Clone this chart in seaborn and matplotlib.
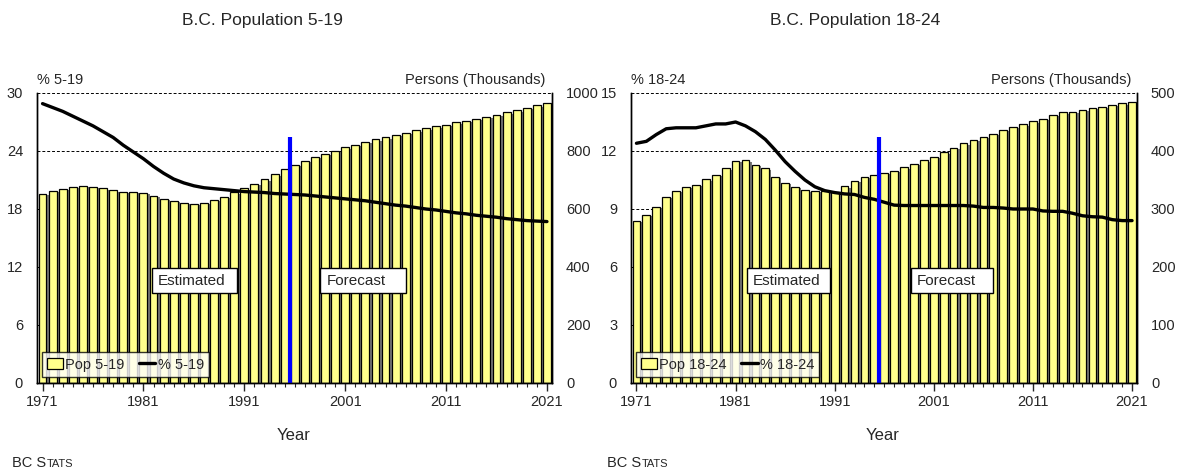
import matplotlib
matplotlib.use("Agg")
import matplotlib.pyplot as plt
import matplotlib.patheffects as pe
from matplotlib.ticker import FixedLocator, MultipleLocator
from matplotlib.patches import Rectangle, Patch
from matplotlib.lines import Line2D
import seaborn as sns

years = list(range(1971, 2022))

# Population 5-19 (thousands)
pop_5_19 = [652, 662, 669, 676, 679, 676, 671, 664, 659, 659,
            655, 646, 636, 628, 621, 618, 621, 631, 643, 657,
            671, 686, 702, 720, 738, 753, 766, 779, 790, 801,
            813, 821, 832, 840, 847, 855, 863, 871, 878, 885,
            891, 899, 905, 911, 917, 924, 934, 940, 948, 957,
            967]
# share of population aged 5-19 (%)
pct_5_19 = [28.9, 28.5, 28.1, 27.6, 27.1, 26.6, 26.0, 25.4, 24.6, 23.9,
            23.2, 22.4, 21.7, 21.1, 20.7, 20.4, 20.2, 20.1, 20.0, 19.9,
            19.8, 19.75, 19.7, 19.6, 19.55, 19.5, 19.45, 19.35, 19.25, 19.15,
            19.05, 18.95, 18.85, 18.7, 18.55, 18.4, 18.3, 18.15, 18.0, 17.9,
            17.75, 17.6, 17.5, 17.35, 17.25, 17.15, 17.0, 16.9, 16.8, 16.75,
            16.7]

# Population 18-24 (thousands)
pop_18_24 = [280, 290, 304, 321, 331, 338, 342, 351, 359, 370,
             383, 384, 376, 370, 356, 345, 338, 332, 331, 331,
             329, 339, 349, 355, 359, 362, 366, 372, 378, 384,
             390, 398, 406, 413, 419, 425, 430, 437, 442, 446,
             451, 456, 462, 467, 468, 471, 474, 476, 480, 482,
             485]
pct_18_24 = [12.4, 12.5, 12.85, 13.15, 13.2, 13.2, 13.2, 13.3, 13.4, 13.4,
             13.5, 13.3, 13.0, 12.6, 12.05, 11.45, 10.95, 10.5, 10.15, 9.95,
             9.85, 9.78, 9.75, 9.6, 9.5, 9.35, 9.2, 9.18, 9.18, 9.18,
             9.18, 9.18, 9.18, 9.18, 9.15, 9.08, 9.08, 9.05, 9.0, 9.0,
             9.0, 8.9, 8.88, 8.88, 8.78, 8.65, 8.6, 8.58, 8.45, 8.4,
             8.4]

forecast_start = 1995.5
major_years = [1971, 1981, 1991, 2001, 2011, 2021]

BAR = "#FFFF8C"
FS = 10.5

sns.set_style("white")
plt.rcParams["font.family"] = ["Liberation Sans", "DejaVu Sans"]

W, H = 1179, 472
fig = plt.figure(figsize=(W / 100, H / 100), dpi=100)


def panel(rect, pop, pct, pct_max, pop_max, step_pct, step_pop, age, title,
          title_x, est_x, fc_x, blue_top, stats_x):
    ax = fig.add_axes(rect)
    axb = ax.twinx()
    ax.set_zorder(axb.get_zorder() + 1)
    ax.patch.set_visible(False)

    sns.barplot(x=years, y=pop, ax=axb, native_scale=True, color=BAR,
                saturation=1, edgecolor="black", linewidth=0.9, width=0.78)
    for p in axb.patches:
        p.set_path_effects([pe.SimplePatchShadow(offset=(1.6, -1.0),
                                                 shadow_rgbFace="#7a7a7a", alpha=1),
                            pe.Normal()])
    axb.set_ylim(0, pop_max)
    axb.yaxis.set_major_locator(MultipleLocator(step_pop))
    axb.set_axisbelow(True)
    axb.grid(axis="y", color="black", linestyle=(0, (3, 2)), linewidth=0.7)
    axb.set_ylabel("")

    sns.lineplot(x=years, y=pct, ax=ax, color="black", linewidth=2.4)
    ax.plot([forecast_start, forecast_start], [0, blue_top], color="#0000FF",
            linewidth=3, solid_capstyle="butt")
    ax.set_ylim(0, pct_max)
    ax.yaxis.set_major_locator(MultipleLocator(step_pct))
    ax.set_xlim(1970.45, 2021.5)
    ax.xaxis.set_major_locator(FixedLocator(major_years))
    ax.xaxis.set_minor_locator(MultipleLocator(1))
    ax.set_xlabel("")
    ax.set_ylabel("")

    for a in (ax, axb):
        a.spines["top"].set_visible(False)
        for s in ("left", "right", "bottom"):
            a.spines[s].set_color("black")
            a.spines[s].set_linewidth(1.0)
    ax.tick_params(axis="x", which="major", direction="out", length=6,
                   width=1, labelsize=FS, pad=3, bottom=True)
    ax.tick_params(axis="x", which="minor", direction="out", length=3,
                   width=0.8, bottom=True)
    ax.tick_params(axis="y", direction="in", length=0, labelsize=FS, pad=10)
    axb.tick_params(axis="y", direction="in", length=0, labelsize=FS, pad=10)

    ax.text(0.0, 1.02, f"% {age}", transform=ax.transAxes, fontsize=FS,
            ha="left", va="bottom")
    ax.text(0.988, 1.02, "Persons (Thousands)", transform=ax.transAxes,
            fontsize=FS, ha="right", va="bottom")

    for (x0, x1), label in ((est_x, "Estimated"), (fc_x, "Forecast")):
        ax.add_patch(Rectangle((x0, 0.31), x1 - x0, 0.087, transform=ax.transAxes,
                               facecolor="white", edgecolor="black",
                               linewidth=1.0, zorder=5))
        ax.text(x0 + 0.012, 0.353, label, transform=ax.transAxes,
                fontsize=FS + 0.5, ha="left", va="center", zorder=6)

    handles = [Patch(facecolor=BAR, edgecolor="black", linewidth=0.9),
               Line2D([0], [0], color="black", linewidth=2.4)]
    leg = ax.legend(handles, [f"Pop {age}", f"% {age}"], loc="lower left",
                    bbox_to_anchor=(0.01, 0.022), borderaxespad=0, ncol=2,
                    fontsize=FS, frameon=True, fancybox=False,
                    handlelength=1.1, handleheight=0.8, handletextpad=0.15,
                    columnspacing=1.0, borderpad=0.35)
    leg.get_frame().set_edgecolor("black")
    leg.get_frame().set_linewidth(1.0)
    leg.set_zorder(10)

    fig.text(title_x, 1 - 20 / H, title, fontsize=12.5, ha="center",
             va="center")
    fig.text(rect[0] + rect[2] / 2 - 0.001, 1 - 435 / H, "Year",
             fontsize=12, ha="center", va="center")
    t1 = fig.text(stats_x, 1 - 467 / H, "BC S", fontsize=FS, ha="left",
                  va="baseline")
    ax.annotate("TATS", xy=(1, 0), xycoords=t1, xytext=(0.3, 0.4),
                textcoords="offset points", fontsize=FS - 2.5,
                ha="left", va="bottom")


panel([37 / W, 89 / H, 515 / W, 290 / H], pop_5_19, pct_5_19, 30, 1000, 6, 200,
      "5-19", "B.C. Population 5-19", 262 / W, (0.223, 0.388), (0.550, 0.717),
      25.5, 12 / W)
panel([631 / W, 89 / H, 506 / W, 290 / H], pop_18_24, pct_18_24, 15, 500, 3, 100,
      "18-24", "B.C. Population 18-24", 855 / W, (0.229, 0.393), (0.553, 0.715),
      12.75, 607 / W)

fig.savefig("out.png", dpi=100)
